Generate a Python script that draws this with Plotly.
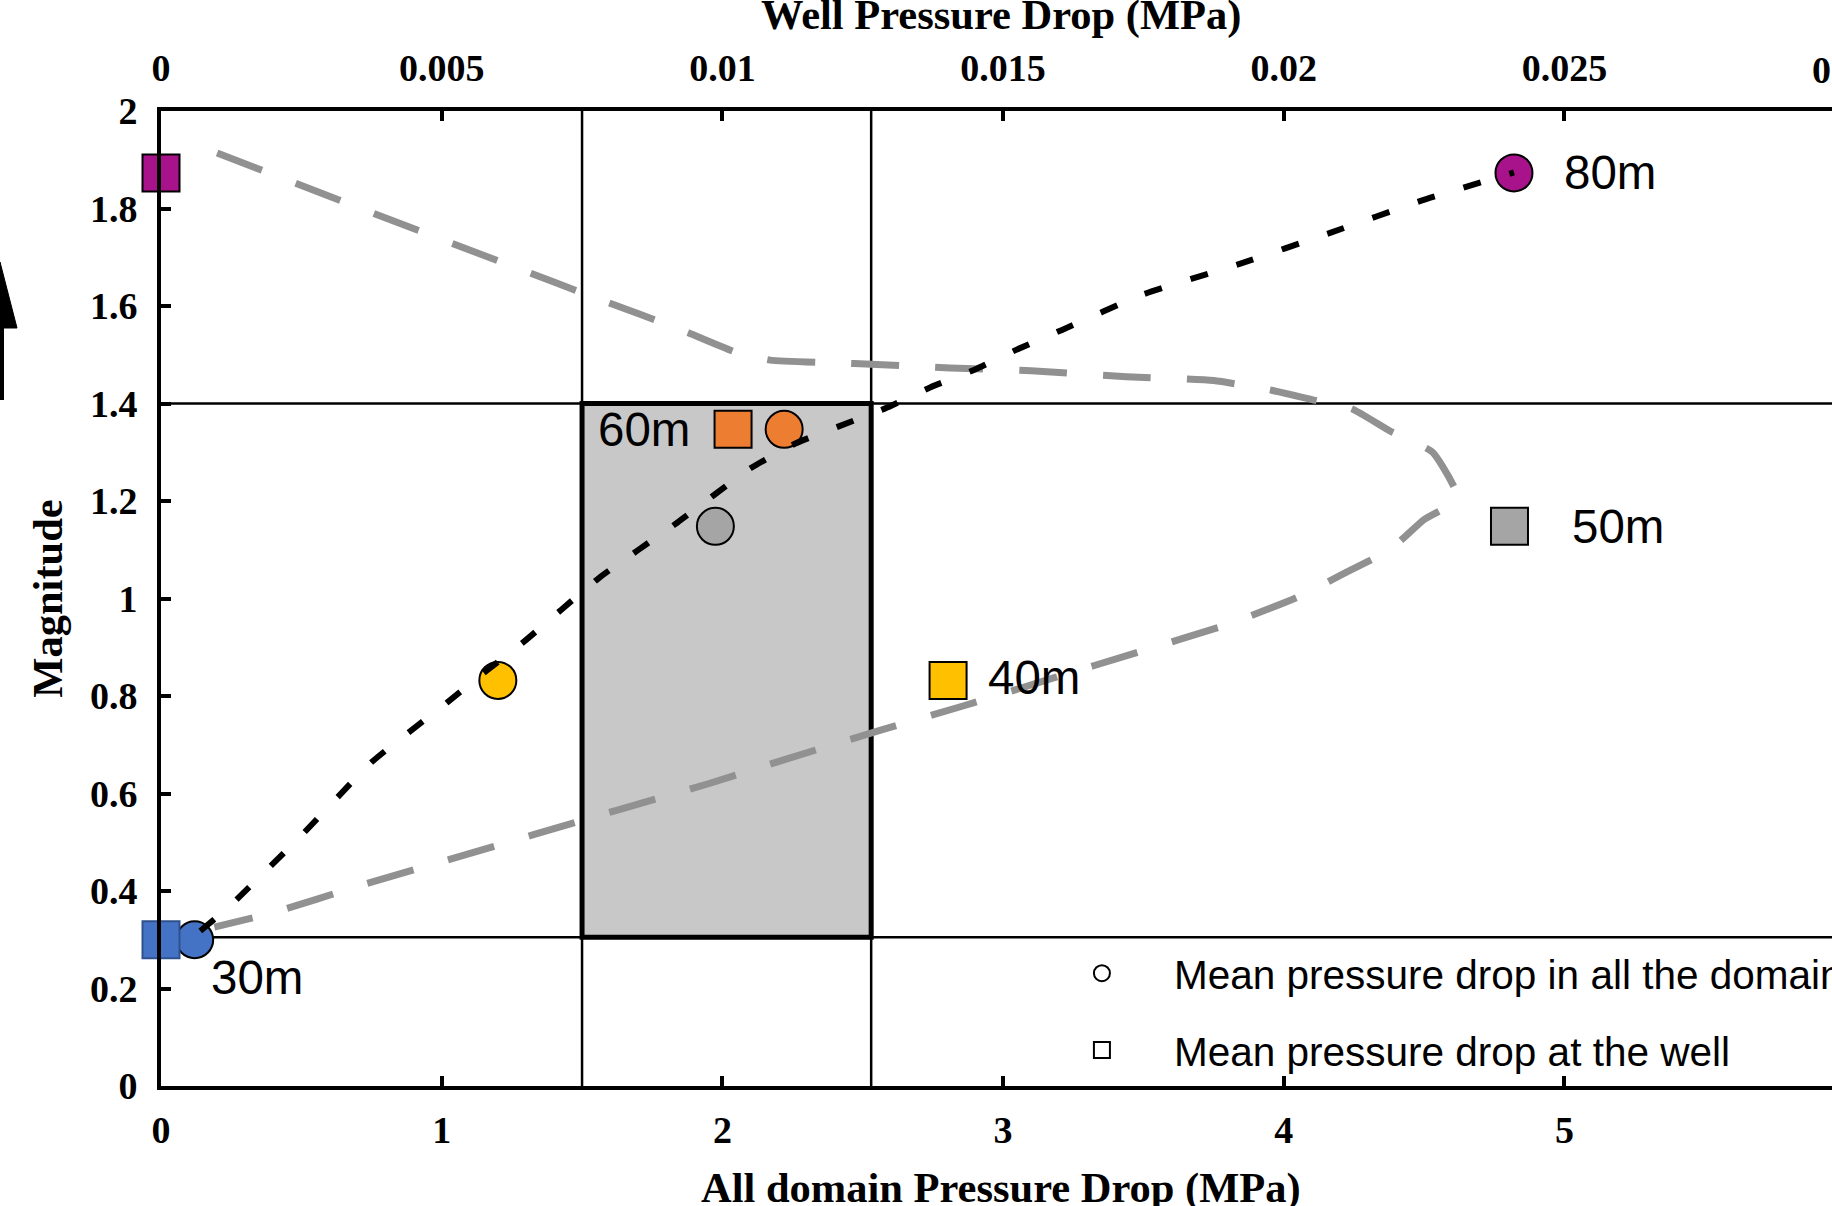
import plotly.graph_objects as go

# ---------------- data ----------------
labels = ["30m", "40m", "50m", "60m", "80m"]
colors = ["#4472C4", "#FFC000", "#A5A5A5", "#ED7D31", "#A8128A"]
square_edge = ["#2F528F", "#000000", "#000000", "#000000", "#000000"]
domain_drop = [0.12, 1.20, 1.975, 2.22, 4.82]          # MPa, bottom axis (circles)
well_drop = [0.0, 0.01402, 0.02402, 0.01019, 0.0]      # MPa, top axis (squares)
magnitude = [0.30, 0.832, 1.148, 1.347, 1.873]

# dotted black trend through the circles
black_x = [0.14, 0.25, 0.51, 0.75, 1.02, 1.16, 1.29, 1.56, 1.84, 2.10, 2.26,
           2.41, 2.58, 2.74, 2.90, 3.05, 3.21, 3.50, 3.84, 4.17, 4.49, 4.82]
black_y = [0.318, 0.372, 0.52, 0.664, 0.787, 0.852, 0.91, 1.042, 1.156, 1.267, 1.318,
           1.352, 1.39, 1.433, 1.47, 1.511, 1.551, 1.624, 1.686, 1.751, 1.816, 1.874]

# dashed grey trend
gray_x = [0.20, 0.64, 1.24, 1.57, 1.85, 2.05, 2.17, 2.47, 2.81, 3.10, 3.44, 3.75,
          3.95, 4.10, 4.24, 4.38, 4.53, 4.62, 4.50, 4.38, 4.22, 4.05, 3.80, 3.47,
          3.18, 2.86, 2.57, 2.23, 1.95, 1.62, 1.33, 1.00, 0.72, 0.39, 0.19]
gray_y = [1.914, 1.816, 1.684, 1.612, 1.552, 1.505, 1.489, 1.482, 1.473, 1.467, 1.455, 1.447,
          1.428, 1.408, 1.39, 1.343, 1.30, 1.205, 1.162, 1.101, 1.053, 1.003, 0.947, 0.888,
          0.837, 0.780, 0.731, 0.671, 0.620, 0.565, 0.516, 0.460, 0.413, 0.354, 0.326]

# highlighted window
box_x = [1.5, 2.53]
box_y = [0.305, 1.4]

x_ticks = [0, 1, 2, 3, 4, 5]
x2_ticks = [0, 0.005, 0.01, 0.015, 0.02, 0.025]
x2_ticktext = ["0", "0.005", "0.01", "0.015", "0.02", "0.025"]
y_ticks = [0, 0.2, 0.4, 0.6, 0.8, 1.0, 1.2, 1.4, 1.6, 1.8, 2.0]
y_ticktext = ["0", "0.2", "0.4", "0.6", "0.8", "1", "1.2", "1.4", "1.6", "1.8", "2"]

X_MAX = 5.953
WELL_PER_DOMAIN = 0.005

SERIF = "Liberation Serif, Times New Roman, serif"
SANS = "Liberation Sans, Arial, sans-serif"
tick_font = dict(family=SERIF, size=38, color="black", weight="bold")
title_font = dict(family=SERIF, size=42.5, color="black", weight="bold")
label_font = dict(family=SANS, size=47.5, color="black")

fig = go.Figure()

fig.add_trace(go.Scatter(
    x=gray_x, y=gray_y, mode="lines", showlegend=False, hoverinfo="skip",
    line=dict(color="#919191", width=7, dash="48px,36px", shape="spline", smoothing=0.5),
))

# legend-only entries
fig.add_trace(go.Scatter(
    x=[None], y=[None], mode="markers", name="Mean pressure drop in all the domain",
    legendgroup="a",
    marker=dict(symbol="circle", size=28, color="white", line=dict(color="black", width=2)),
))
fig.add_trace(go.Scatter(
    x=[None], y=[None], mode="markers", name="Mean pressure drop at the well",
    legendgroup="b",
    marker=dict(symbol="square", size=28, color="white", line=dict(color="black", width=2)),
))

fig.add_trace(go.Scatter(
    x=domain_drop, y=magnitude, mode="markers", showlegend=False, cliponaxis=False,
    text=labels, hoverinfo="text+x+y",
    marker=dict(symbol="circle", size=37, color=colors, line=dict(color="black", width=2)),
))
fig.add_trace(go.Scatter(
    x=well_drop, y=magnitude, xaxis="x2", mode="markers", showlegend=False, cliponaxis=False,
    text=labels, hoverinfo="text+x+y",
    marker=dict(symbol="square", size=37, color=colors, line=dict(color=square_edge, width=2)),
))

fig.add_trace(go.Scatter(
    x=black_x, y=black_y, mode="lines", showlegend=False, hoverinfo="skip",
    line=dict(color="black", width=6, dash="18px,30px", shape="spline", smoothing=0.5),
))

shapes = [
    dict(type="rect", xref="x", yref="y", x0=box_x[0], x1=box_x[1], y0=box_y[0], y1=box_y[1],
         fillcolor="#C8C8C8", line=dict(color="black", width=5), layer="below"),
]
for bx in box_x:
    shapes.append(dict(type="line", xref="x", yref="paper", x0=bx, x1=bx, y0=0, y1=1,
                       line=dict(color="black", width=2.5), layer="below"))
for by in box_y:
    shapes.append(dict(type="line", xref="paper", yref="y", x0=0, x1=1, y0=by, y1=by,
                       line=dict(color="black", width=2.5), layer="below"))

# partially visible up-arrow at the far left edge (paper coordinates)
L, T, B, W = 161, 111, 120, 1832
PW, PH = W - L, 1206 - T - B
def px(v):
    return (v - L) / PW
def py(v):
    return (1206 - B - v) / PH
shapes.append(dict(type="line", xref="paper", yref="paper", x0=px(1), x1=px(1), y0=py(400), y1=py(310),
                   line=dict(color="black", width=6)))
shapes.append(dict(type="path", xref="paper", yref="paper",
                   path=f"M {px(0)} {py(262)} L {px(17)} {py(328)} L {px(-16)} {py(328)} Z",
                   fillcolor="black", line=dict(color="black", width=1)))

annotations = [
    dict(x=domain_drop[4], y=magnitude[4], xref="x", yref="y", text=labels[4], showarrow=False,
         xanchor="left", yanchor="middle", xshift=48, font=label_font),
    dict(x=well_drop[2], y=magnitude[2], xref="x2", yref="y", text=labels[2], showarrow=False,
         xanchor="left", yanchor="middle", xshift=61, font=label_font),
    dict(x=well_drop[1], y=magnitude[1], xref="x2", yref="y", text=labels[1], showarrow=False,
         xanchor="left", yanchor="middle", xshift=38, yshift=3, font=label_font),
    dict(x=well_drop[3], y=magnitude[3], xref="x2", yref="y", text=labels[3], showarrow=False,
         xanchor="right", yanchor="middle", xshift=-41, font=label_font),
    dict(x=domain_drop[0], y=magnitude[0], xref="x", yref="y", text=labels[0], showarrow=False,
         xanchor="left", yanchor="middle", xshift=14, yshift=-38, font=label_font),
    # clipped tick label of the top axis at the cropped right edge
    dict(x=px(1845), y=py(70), xref="paper", yref="paper", text="0.03", showarrow=False,
         xanchor="center", yanchor="middle", font=tick_font),
    # axis titles of the two horizontal axes (placed like the cropped original)
    dict(x=px(1001), y=py(1188), xref="paper", yref="paper", text="All domain Pressure Drop (MPa)",
         showarrow=False, xanchor="center", yanchor="middle", font=title_font),
    dict(x=px(1001), y=py(15), xref="paper", yref="paper", text="Well Pressure Drop (MPa)",
         showarrow=False, xanchor="center", yanchor="middle", font=title_font),
]

axis_common = dict(
    showline=True, linecolor="black", linewidth=4, ticks="inside", ticklen=10, tickwidth=4,
    tickcolor="black", showgrid=False, zeroline=False, tickfont=tick_font, automargin=False,
)

fig.update_layout(
    template="none",
    width=W, height=1206,
    margin=dict(l=L, r=0, t=T, b=B, pad=0, autoexpand=False),
    paper_bgcolor="white", plot_bgcolor="white",
    showlegend=True,
    legend=dict(x=0.52, y=0.076, xanchor="left", yanchor="middle", bgcolor="rgba(0,0,0,0)",
                font=dict(family=SANS, size=40.5, color="black"), itemwidth=134,
                tracegroupgap=21, itemsizing="trace"),
    xaxis=dict(range=[0, X_MAX], tickvals=x_ticks, ticklabelstandoff=7, **axis_common),
    xaxis2=dict(range=[0, X_MAX * WELL_PER_DOMAIN], overlaying="x", side="top", anchor="y",
                tickvals=x2_ticks, ticktext=x2_ticktext, ticklabelstandoff=11,
                **axis_common),
    yaxis=dict(range=[0, 2], tickvals=y_ticks, ticktext=y_ticktext, ticklabelstandoff=12,
               title=dict(text="Magnitude", font=title_font, standoff=15),
               **axis_common),
    shapes=shapes,
    annotations=annotations,
)

fig.write_html("out.html")
